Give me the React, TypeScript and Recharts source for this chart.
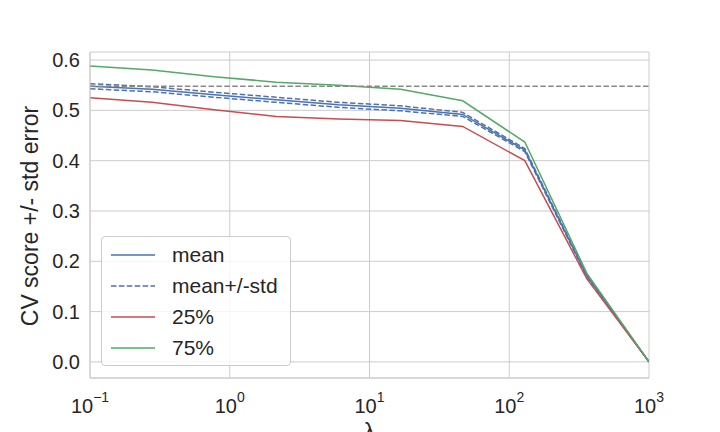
import {
  LineChart,
  Line,
  XAxis,
  YAxis,
  CartesianGrid,
  ReferenceLine,
  Legend,
} from 'recharts'

// regularisation strengths (logspace -1 .. 3, 10 points)
const lambdas = [0.1, 0.278, 0.774, 2.154, 5.995, 16.68, 46.42, 129.2, 359.4, 1000]
const meanScores = [0.548, 0.542, 0.531, 0.521, 0.511, 0.504, 0.492, 0.421, 0.171, 0.0]
const stdErrors = [0.005, 0.005, 0.005, 0.005, 0.005, 0.005, 0.004, 0.003, 0.002, 0.0]
const q25Scores = [0.525, 0.516, 0.501, 0.488, 0.483, 0.48, 0.468, 0.4, 0.165, 0.0]
const q75Scores = [0.588, 0.58, 0.567, 0.556, 0.55, 0.542, 0.519, 0.437, 0.176, 0.0]
const xTicks = [0.1, 1, 10, 100, 1000]
const yTicks = [0, 0.1, 0.2, 0.3, 0.4, 0.5, 0.6]

const data = lambdas.map((lambda, i) => ({
  lambda,
  mean: meanScores[i],
  upper: meanScores[i] + stdErrors[i],
  lower: meanScores[i] - stdErrors[i],
  q25: q25Scores[i],
  q75: q75Scores[i],
}))

const bestMean = Math.max(...meanScores)

const BLUE = '#4C72B0'
const RED = '#C44E52'
const GREEN = '#55A868'
const GRID = '#cccccc'
const TEXT = '#262626'
const FONT = '"Liberation Sans", Arial, sans-serif'

const LogTick = (props: any) => {
  const { x, y, payload } = props
  const exp = Math.round(Math.log10(payload.value))
  const expText = exp < 0 ? '\u2212' + Math.abs(exp) : String(exp)
  return (
    <text x={x} y={y + 35} textAnchor="middle" fill={TEXT} fontSize={20} fontFamily={FONT}>
      <tspan>10</tspan>
      <tspan dy={-11} fontSize={14}>{expText}</tspan>
    </text>
  )
}

const YLabel = (props: any) => {
  const vb = props.viewBox || { y: 52, height: 326 }
  const cx = 30
  const cy = vb.y + vb.height / 2 + 1
  return (
    <text
      x={cx}
      y={cy}
      transform={`rotate(-90, ${cx}, ${cy})`}
      textAnchor="middle"
      dominantBaseline="central"
      fill={TEXT}
      fontSize={23}
      fontFamily={FONT}
    >
      CV score +/- std error
    </text>
  )
}

const legendItems = [
  { label: 'mean', color: BLUE, dash: undefined },
  { label: 'mean+/-std', color: BLUE, dash: '5.5 2.4' },
  { label: '25%', color: RED, dash: undefined },
  { label: '75%', color: GREEN, dash: undefined },
]

const LegendBox = () => (
  <div
    style={{
      width: 190,
      height: 130,
      boxSizing: 'border-box',
      paddingTop: 2,
      border: `1px solid ${GRID}`,
      borderRadius: 4,
      background: 'rgba(255,255,255,0.8)',
      fontFamily: FONT,
      fontSize: 21,
      color: TEXT,
      textAlign: 'left',
    }}
  >
    {legendItems.map((item) => (
      <div key={item.label} style={{ height: 31, display: 'flex', alignItems: 'center' }}>
        <svg width={62} height={10} style={{ marginLeft: 8, flex: 'none' }}>
          <line x1={1} y1={5} x2={45} y2={5} stroke={item.color} strokeWidth={1.5} strokeDasharray={item.dash} />
        </svg>
        <span>{item.label}</span>
      </div>
    ))}
  </div>
)

export default function App() {
  return (
    <div style={{ position: 'absolute', left: 0, top: 0, width: 720, height: 432, background: '#fff' }}>
      <LineChart width={720} height={432} data={data} margin={{ top: 52, right: 71, left: 0, bottom: 0 }}>
        <CartesianGrid stroke={GRID} strokeWidth={1} />
        <XAxis
          dataKey="lambda"
          type="number"
          scale="log"
          domain={[0.1, 1000]}
          ticks={xTicks}
          allowDataOverflow
          height={54}
          tickSize={0}
          tickMargin={0}
          tickLine={false}
          axisLine={{ stroke: GRID }}
          tick={<LogTick />}
          label={{
            value: 'λ',
            position: 'insideBottom',
            offset: -8,
            fill: TEXT,
            fontSize: 23,
            fontFamily: FONT,
          }}
        />
        <XAxis
          xAxisId="top"
          orientation="top"
          dataKey="lambda"
          type="number"
          scale="log"
          domain={[0.1, 1000]}
          allowDataOverflow
          height={0}
          tick={false}
          tickLine={false}
          axisLine={{ stroke: GRID }}
        />
        <YAxis
          type="number"
          domain={[-0.032, 0.616]}
          ticks={yTicks}
          allowDataOverflow
          width={90}
          tickSize={0}
          tickMargin={10}
          tickLine={false}
          axisLine={{ stroke: GRID }}
          tickFormatter={(v: number) => v.toFixed(1)}
          tick={{ fill: TEXT, fontSize: 20, fontFamily: FONT }}
          label={{ content: (p: any) => <YLabel {...p} /> }}
        />
        <YAxis
          yAxisId="right"
          orientation="right"
          type="number"
          domain={[-0.032, 0.616]}
          allowDataOverflow
          width={0}
          tick={false}
          tickLine={false}
          axisLine={{ stroke: GRID }}
        />
        <Line dataKey="mean" stroke={BLUE} strokeWidth={1.5} dot={false} isAnimationActive={false} />
        <Line dataKey="upper" stroke={BLUE} strokeWidth={1.5} strokeDasharray="5.5 2.4" dot={false} isAnimationActive={false} />
        <Line dataKey="lower" stroke={BLUE} strokeWidth={1.5} strokeDasharray="5.5 2.4" dot={false} isAnimationActive={false} legendType="none" />
        <Line dataKey="q25" stroke={RED} strokeWidth={1.5} dot={false} isAnimationActive={false} />
        <Line dataKey="q75" stroke={GREEN} strokeWidth={1.5} dot={false} isAnimationActive={false} />
        <ReferenceLine y={bestMean} stroke="#888888" strokeWidth={1.5} strokeDasharray="5.5 2.4" />
        <Legend
          layout="vertical"
          verticalAlign="middle"
          align="center"
          content={() => <LegendBox />}
          wrapperStyle={{ left: 101, top: 236, width: 190 }}
        />
      </LineChart>
    </div>
  )
}
